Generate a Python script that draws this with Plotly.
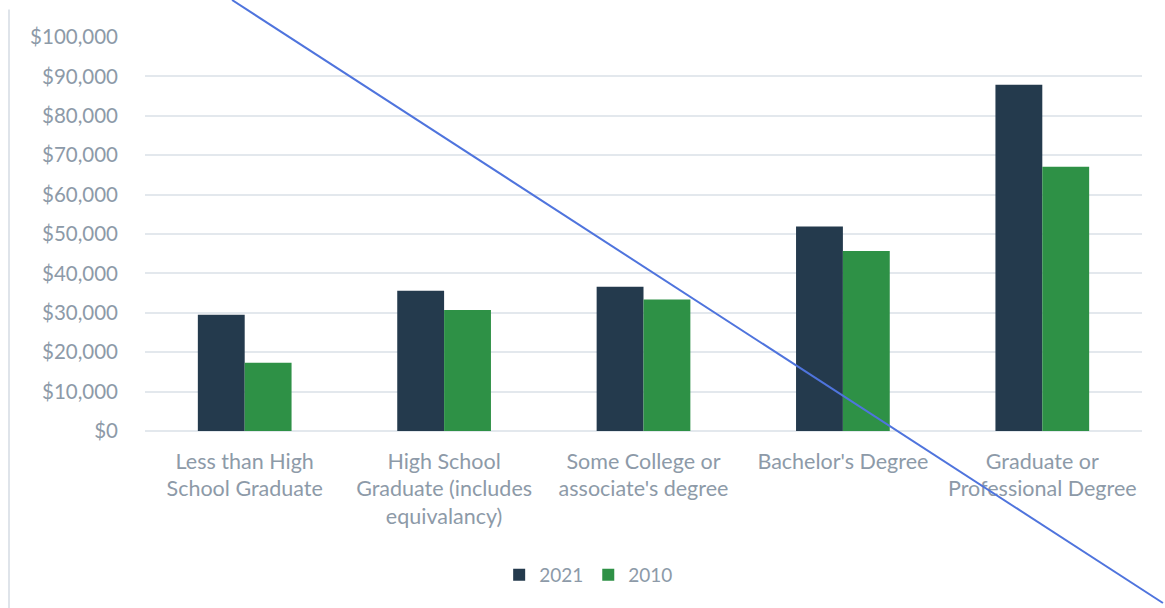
import plotly.graph_objects as go

# Median earnings by educational attainment
categories = [
    "Less than High<br>School Graduate",
    "High School<br>Graduate (includes<br>equivalancy)",
    "Some College or<br>associate's degree",
    "Bachelor's Degree",
    "Graduate or<br>Professional Degree",
]
earnings_2021 = [29500, 35600, 36600, 51900, 87900]
earnings_2010 = [17300, 30700, 33400, 45700, 67100]
y_ticks = list(range(0, 100001, 10000))

TEXT = "#8d9aa8"
GRID = "#e3e8ed"
FONT = "Lato"

fig = go.Figure()
fig.add_trace(go.Bar(name="2021", x=categories, y=earnings_2021,
                     marker=dict(color="#243a4d", line=dict(width=0))))
fig.add_trace(go.Bar(name="2010", x=categories, y=earnings_2010,
                     marker=dict(color="#2e9146", line=dict(width=0))))

fig.update_layout(
    width=1165, height=608,
    margin=dict(l=145, r=23, t=37, b=177),
    paper_bgcolor="white", plot_bgcolor="white",
    barmode="group", bargap=0.53, bargroupgap=0,
    font=dict(family=FONT, size=20, color=TEXT),
    showlegend=True,
    legend=dict(orientation="h", x=0.445, xanchor="center",
                y=-0.365, yanchor="middle",
                font=dict(family=FONT, size=19, color=TEXT),
                itemwidth=30, traceorder="normal"),
    xaxis=dict(showgrid=False, showline=False, zeroline=False,
               ticks="", ticklabelstandoff=15,
               tickfont=dict(family=FONT, size=21.5, color=TEXT)),
    yaxis=dict(range=[0, 100000], tickvals=y_ticks,
               tickformat="$,.0f", showgrid=True, gridcolor=GRID,
               gridwidth=1.5, zeroline=True, zerolinecolor=GRID,
               zerolinewidth=1.5, showline=False, ticks="",
               ticklabelstandoff=26,
               tickfont=dict(family=FONT, size=20.5, color=TEXT)),
    shapes=[
        # chart frame edge on the left
        dict(type="line", xref="paper", yref="paper",
             x0=-0.1364, x1=-0.1364, y0=1.07, y1=-0.45,
             line=dict(color="#dfe4ea", width=2)),
        # diagonal stroke across the chart
        dict(type="line", xref="paper", yref="paper",
             x0=0.0873, y0=1.0939, x1=1.021, y1=-0.4365,
             line=dict(color="#4f74dd", width=2)),
    ],
)

fig.write_html("out.html")
